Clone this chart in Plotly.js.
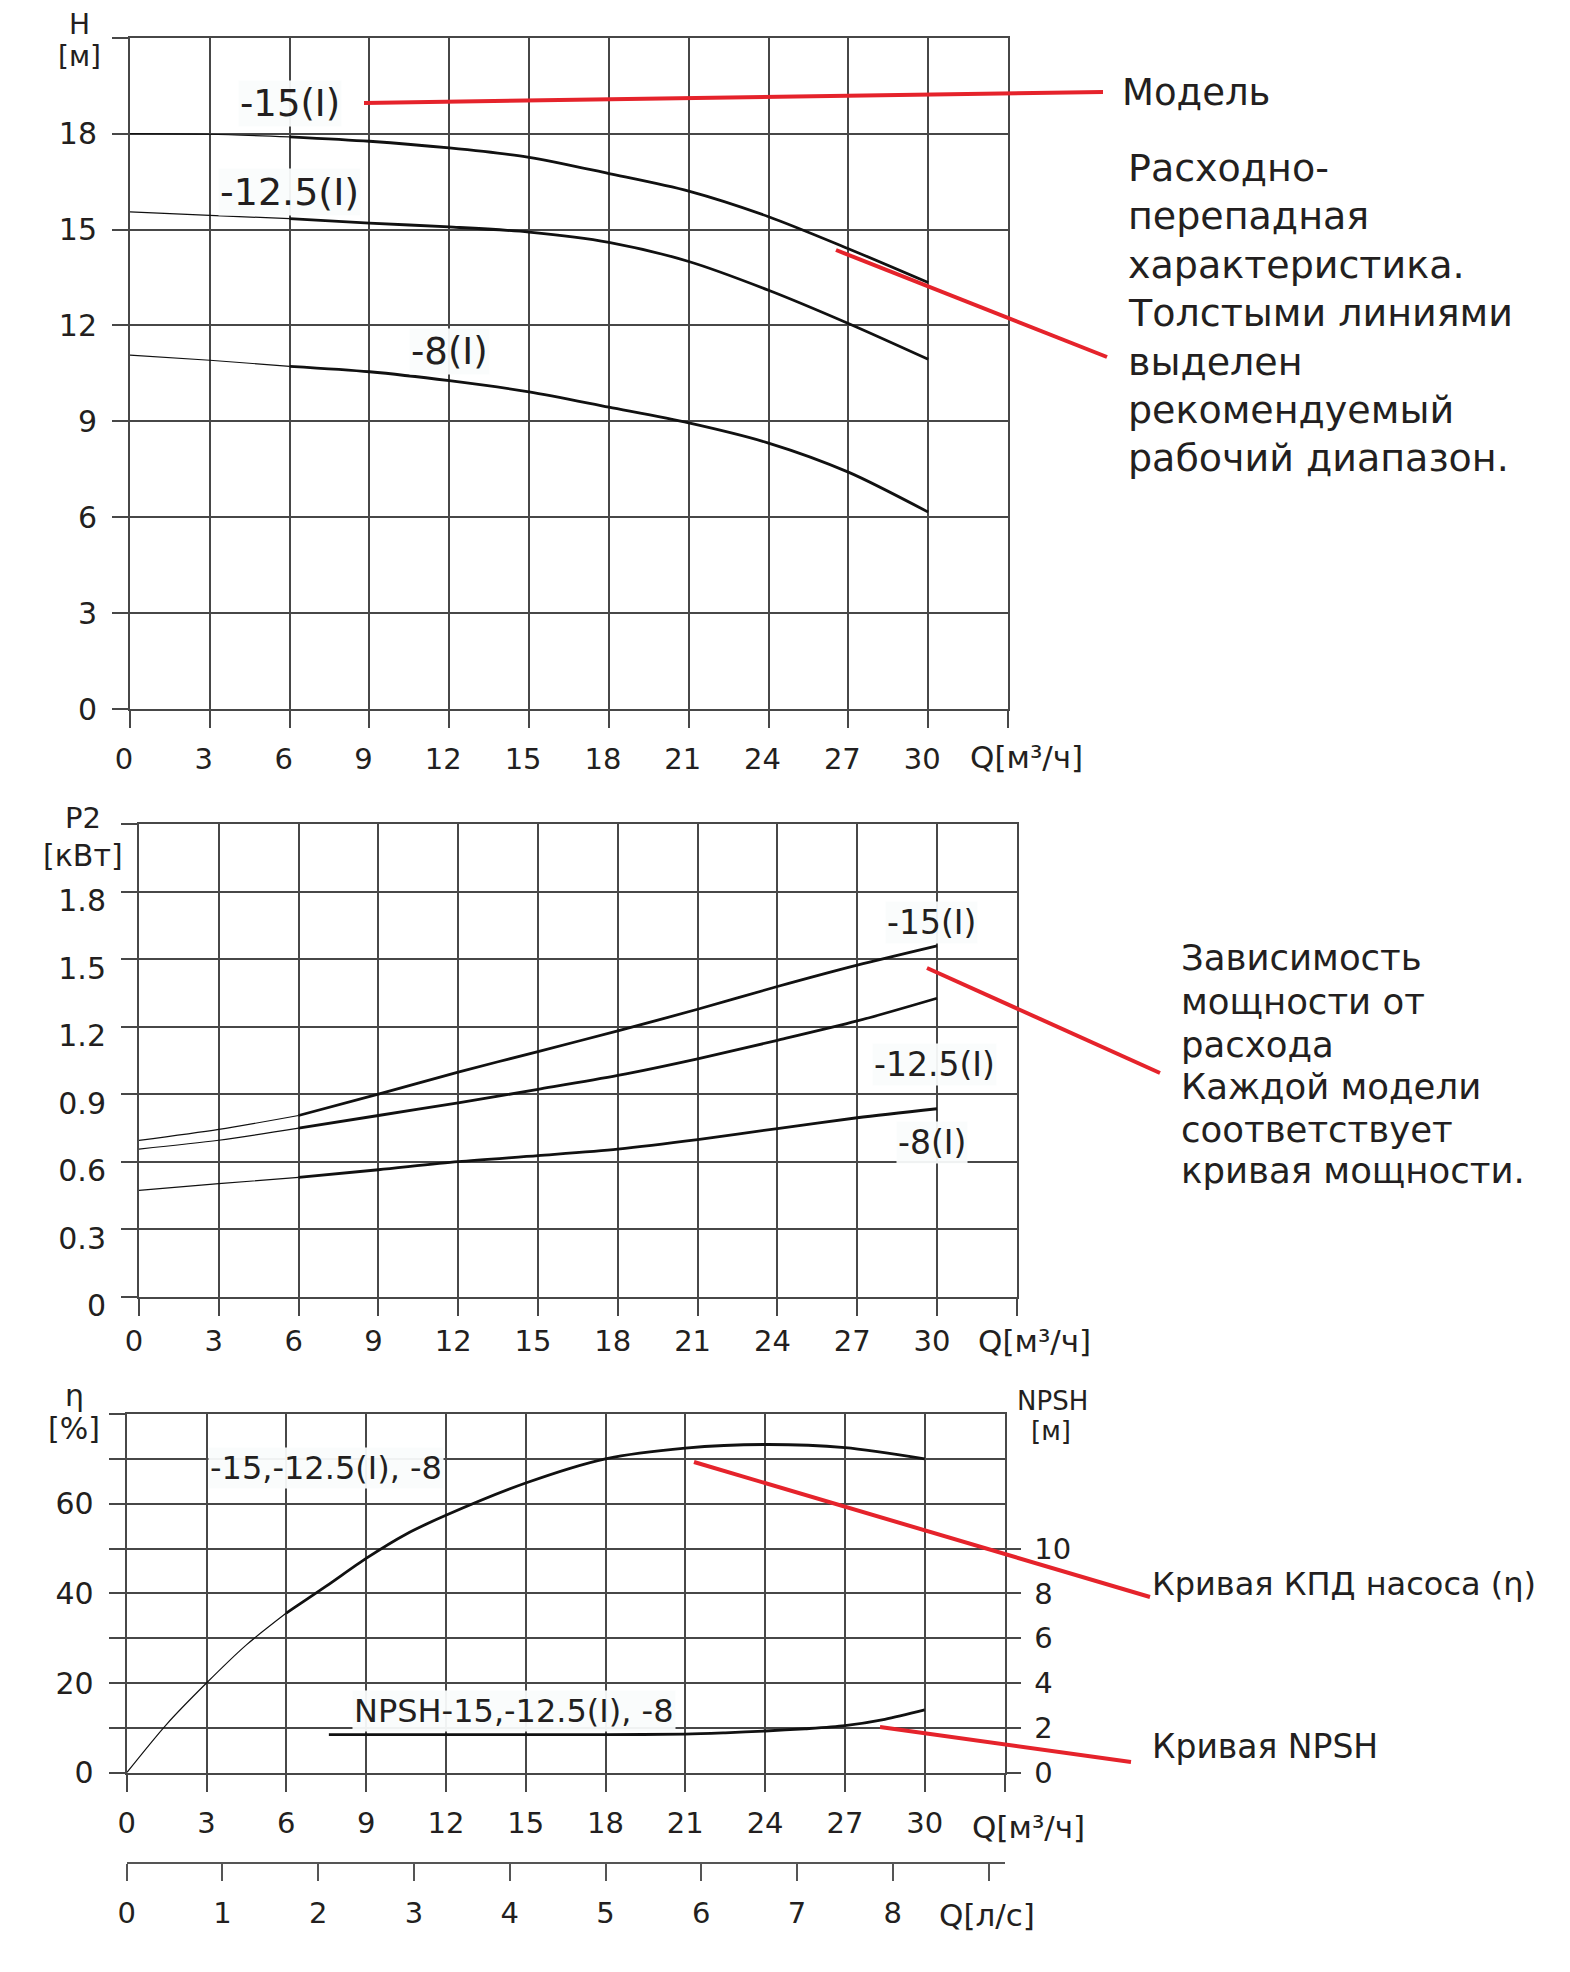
<!DOCTYPE html>
<html>
<head>
<meta charset="utf-8">
<script src="https://cdn.plot.ly/plotly-3.0.1.min.js"></script>
<style>
  body { margin: 0; background: #fff; }
  #chart { width: 1570px; height: 1972px; }
</style>
</head>
<body>
<div id="chart"></div>
<script>
// flow, m3/h
var flow = [0, 3, 6, 9, 12, 15, 18, 21, 24, 27, 30];
// head H [м] per model
var head15 = [18.0, 17.98, 17.9, 17.76, 17.55, 17.26, 16.75, 16.2, 15.4, 14.4, 13.34];
var head125 = [15.55, 15.44, 15.34, 15.2, 15.08, 14.92, 14.6, 14.0, 13.1, 12.06, 10.94];
var head8 = [11.07, 10.91, 10.72, 10.55, 10.27, 9.92, 9.44, 8.95, 8.32, 7.41, 6.16];
// power P2 [кВт] per model
var power15 = [0.694, 0.743, 0.805, 0.9, 0.998, 1.089, 1.181, 1.277, 1.378, 1.473, 1.559];
var power125 = [0.656, 0.695, 0.749, 0.805, 0.861, 0.921, 0.983, 1.057, 1.139, 1.225, 1.326];
var power8 = [0.472, 0.502, 0.53, 0.564, 0.6, 0.627, 0.656, 0.698, 0.747, 0.795, 0.835];
// efficiency and NPSH
var etaFlow = [0, 1.5, 3, 4.5, 6, 7.5, 9, 10.5, 12, 15, 18, 21, 24, 27, 30];
var eta = [0, 10.8, 20, 28.5, 35.6, 41.6, 47.8, 53.2, 57.4, 64.6, 70, 72.4, 73.2, 72.5, 70];
var npshFlow = [7.6, 9, 12, 15, 18, 21, 22.5, 24, 25.5, 27, 28.5, 30];
var npsh = [1.7, 1.7, 1.7, 1.7, 1.7, 1.72, 1.78, 1.86, 1.96, 2.1, 2.38, 2.8];

// ticks
var qTicks = [0, 3, 6, 9, 12, 15, 18, 21, 24, 27, 30, 33];
var qLabels = ['0', '3', '6', '9', '12', '15', '18', '21', '24', '27', '30', ''];
var hTicks = [0, 3, 6, 9, 12, 15, 18, 21];
var hLabels = ['0', '3', '6', '9', '12', '15', '18', ''];
var pTicks = [0, 0.3, 0.6, 0.9, 1.2, 1.5, 1.8, 2.1];
var pLabels = ['0', '0.3', '0.6', '0.9', '1.2', '1.5', '1.8', ''];
var etaTicks = [0, 10, 20, 30, 40, 50, 60, 70, 80];
var etaLabels = ['0', '', '20', '', '40', '', '60', '', ''];
var npshTicks = [0, 2, 4, 6, 8, 10];
var lsTicks = [0, 1, 2, 3, 4, 5, 6, 7, 8, 9];
var lsLabels = ['0', '1', '2', '3', '4', '5', '6', '7', '8', ''];

var W = 1570, H = 1972;
function px(x) { return x / W; }
function py(y) { return 1 - y / H; }

var FONT = 'DejaVu Sans, Liberation Sans, sans-serif';
var INK = '#231f20';
var GRID = '#474747';
var RED = '#e5232b';

// thin part up to Q=6, thick recommended range after
function curve(xs, ys, xa, ya) {
  var tx = [], ty = [], kx = [], ky = [];
  for (var i = 0; i < xs.length; i++) {
    if (xs[i] <= 6) { tx.push(xs[i]); ty.push(ys[i]); }
    if (xs[i] >= 6) { kx.push(xs[i]); ky.push(ys[i]); }
  }
  var base = {type: 'scatter', mode: 'lines', xaxis: xa, yaxis: ya, showlegend: false, hoverinfo: 'skip'};
  var thin = Object.assign({}, base, {x: tx, y: ty, line: {color: '#111', width: 1.2, shape: 'spline', smoothing: 0.8}});
  var thick = Object.assign({}, base, {x: kx, y: ky, line: {color: '#111', width: 2.8, shape: 'spline', smoothing: 0.8}});
  return [thin, thick];
}

var data = [].concat(
  curve(flow, head15, 'x', 'y'),
  curve(flow, head125, 'x', 'y'),
  curve(flow, head8, 'x', 'y'),
  curve(flow, power15, 'x2', 'y2'),
  curve(flow, power125, 'x2', 'y2'),
  curve(flow, power8, 'x2', 'y2'),
  curve(etaFlow, eta, 'x3', 'y3'),
  [{type: 'scatter', mode: 'lines', x: npshFlow, y: npsh, xaxis: 'x3', yaxis: 'y4',
    showlegend: false, hoverinfo: 'skip', line: {color: '#111', width: 2.8, shape: 'spline', smoothing: 0.8}},
   {type: 'scatter', mode: 'lines', x: [], y: [], xaxis: 'x5', yaxis: 'y3', showlegend: false}]
);

function xAxis(domain, anchor, shift, standoff) {
  return {
    domain: domain, anchor: anchor, range: [0, 33], fixedrange: true,
    tickmode: 'array', tickvals: qTicks, ticktext: qLabels,
    showgrid: true, gridcolor: GRID, gridwidth: 2, zeroline: false,
    showline: true, mirror: true, linecolor: GRID, linewidth: 2,
    ticks: 'outside', ticklen: 17, tickcolor: GRID, tickwidth: 2,
    ticklabelstandoff: standoff, ticklabelshift: shift,
    tickfont: {family: FONT, size: 29, color: INK}
  };
}
function yAxis(domain, anchor, range, vals, labels, shift) {
  return {
    domain: domain, anchor: anchor, range: range, fixedrange: true,
    tickmode: 'array', tickvals: vals, ticktext: labels,
    showgrid: true, gridcolor: GRID, gridwidth: 2, zeroline: false,
    showline: true, mirror: true, linecolor: GRID, linewidth: 2,
    ticks: 'outside', ticklen: 16, tickcolor: GRID, tickwidth: 2,
    ticklabelstandoff: 9, ticklabelshift: shift,
    tickfont: {family: FONT, size: 30, color: INK}
  };
}

function txt(text, x, y, size, opts) {
  return Object.assign({
    text: text, xref: 'paper', yref: 'paper', x: px(x), y: py(y),
    xanchor: 'center', yanchor: 'middle', showarrow: false,
    font: {family: FONT, size: size, color: INK}
  }, opts || {});
}
function lbl(text, x, y, xa, ya, size) {
  return {
    text: text, xref: xa, yref: ya, x: x, y: y, showarrow: false,
    xanchor: 'center', yanchor: 'middle', bgcolor: 'rgba(250,252,252,0.95)',
    font: {family: FONT, size: size, color: INK}
  };
}
function red(x0, y0, x1, y1) {
  return {type: 'line', xref: 'paper', yref: 'paper', x0: px(x0), y0: py(y0), x1: px(x1), y1: py(y1),
    line: {color: RED, width: 4}};
}

var topPara = ['Расходно-', 'перепадная', 'характеристика.', 'Толстыми линиями', 'выделен', 'рекомендуемый', 'рабочий диапазон.'];
var topParaY = [168, 216, 265, 313, 362, 410, 458];
var midPara = ['Зависимость', 'мощности от', 'расхода', 'Каждой модели', 'соответствует', 'кривая мощности.'];
var midParaY = [958, 1001, 1044, 1086, 1129, 1170];

var annotations = [
  txt('H', 79, 25, 28), txt('[м]', 79, 57, 28),
  lbl('-15(I)', 6.0, 18.95, 'x', 'y', 37),
  lbl('-12.5(I)', 6.0, 16.17, 'x', 'y', 38),
  lbl('-8(I)', 12.0, 11.17, 'x', 'y', 37),
  txt('Q[м³/ч]', 968, 757, 31, {xanchor: 'left'}),
  txt('Модель', 1120, 92, 37, {xanchor: 'left'}),

  txt('P2', 83, 818, 29), txt('[кВт]', 83, 855, 30),
  lbl('-15(I)', 29.8, 1.663, 'x2', 'y2', 33),
  lbl('-12.5(I)', 29.9, 1.031, 'x2', 'y2', 33),
  lbl('-8(I)', 29.8, 0.683, 'x2', 'y2', 33),
  txt('Q[м³/ч]', 976, 1341, 31, {xanchor: 'left'}),

  txt('η', 74, 1395, 30), txt('[%]', 74, 1428, 30),
  txt('NPSH', 1052, 1401, 26), txt('[м]', 1051, 1431, 26),
  lbl('-15,-12.5(I), -8', 7.51, 67.9, 'x3', 'y3', 32),
  lbl('NPSH-15,-12.5(I), -8', 14.56, 13.7, 'x3', 'y3', 32),
  txt('Q[м³/ч]', 970, 1827, 31, {xanchor: 'left'}),
  txt('Q[л/с]', 937, 1915, 31, {xanchor: 'left'}),
  txt('Кривая КПД насоса (η)', 1150, 1584, 32, {xanchor: 'left'}),
  txt('Кривая NPSH', 1150, 1746, 33, {xanchor: 'left'})
];
topPara.forEach(function(t, i) { annotations.push(txt(t, 1126, topParaY[i], 38, {xanchor: 'left'})); });
midPara.forEach(function(t, i) { annotations.push(txt(t, 1179, midParaY[i], 35.5, {xanchor: 'left'})); });

var layout = {
  width: W, height: H, autosize: false,
  margin: {l: 0, r: 0, t: 0, b: 0},
  paper_bgcolor: '#fff', plot_bgcolor: 'rgba(0,0,0,0)',
  font: {family: FONT, color: INK},
  xaxis: xAxis([px(130), px(1008)], 'y', -6, 6),
  yaxis: yAxis([py(709), py(37.7)], 'x', [0, 21], hTicks, hLabels, 0),
  xaxis2: xAxis([px(139), px(1016.8)], 'y2', -5, 0),
  yaxis2: yAxis([py(1296.7), py(824)], 'x2', [0, 2.1], pTicks, pLabels, 9),
  xaxis3: xAxis([px(126.7), px(1004.5)], 'y3', 0, 6),
  yaxis3: yAxis([py(1772.7), py(1414)], 'x3', [0, 80], etaTicks, etaLabels, 0),
  yaxis4: {
    overlaying: 'y3', side: 'right', anchor: 'x3', range: [0, 16], fixedrange: true,
    tickmode: 'array', tickvals: npshTicks, showgrid: false, zeroline: false, showline: false,
    ticks: 'outside', ticklen: 15, tickcolor: GRID, tickwidth: 2, ticklabelstandoff: 8,
    tickfont: {family: FONT, size: 29, color: INK}
  },
  xaxis5: {
    overlaying: 'x3', anchor: 'free', position: py(1862.5), range: [0, 33 / 3.6], fixedrange: true,
    tickmode: 'array', tickvals: lsTicks, ticktext: lsLabels, showgrid: false, zeroline: false,
    showline: true, linecolor: '#555', linewidth: 2,
    ticks: 'outside', ticklen: 17, tickcolor: '#555', tickwidth: 2, ticklabelstandoff: 8,
    tickfont: {family: FONT, size: 29, color: INK}
  },
  annotations: annotations,
  shapes: [
    red(364, 103, 1103, 92),
    red(836, 250, 1107, 357),
    red(927, 968, 1160, 1073),
    red(694, 1462, 1150, 1597),
    red(880, 1727, 1131, 1762)
  ]
};

Plotly.newPlot('chart', data, layout, {displayModeBar: false, staticPlot: true});
</script>
</body>
</html>
